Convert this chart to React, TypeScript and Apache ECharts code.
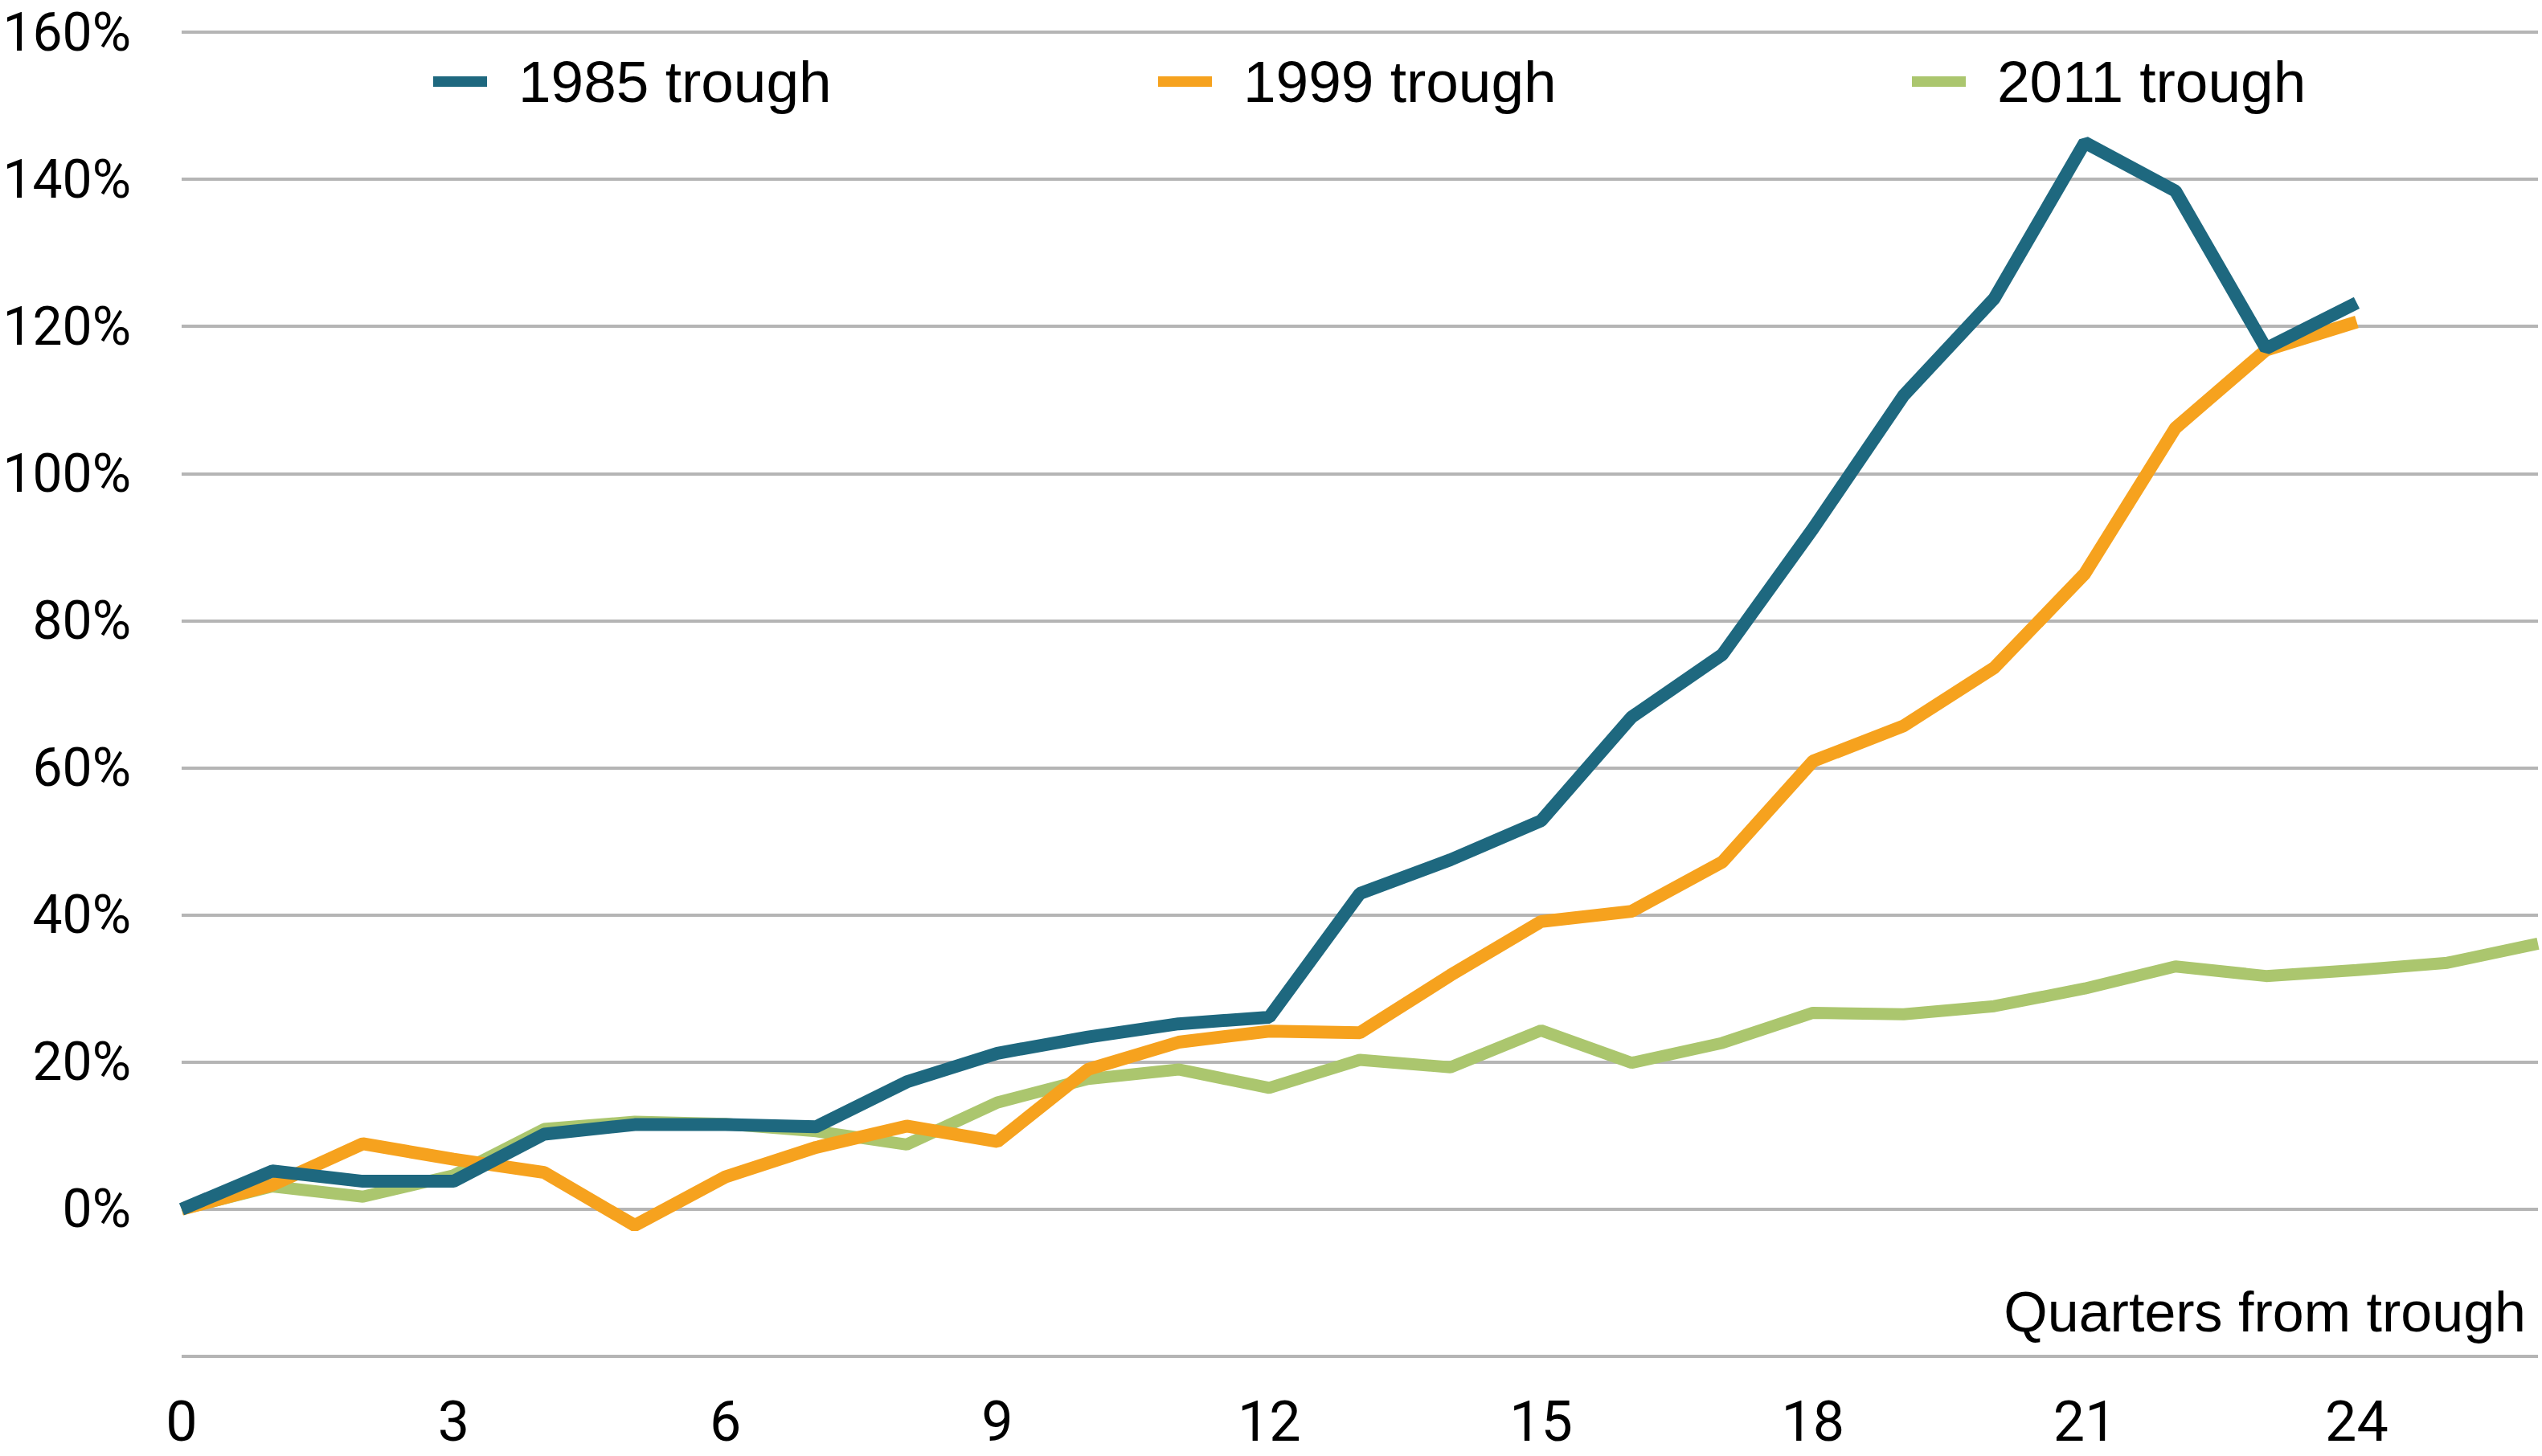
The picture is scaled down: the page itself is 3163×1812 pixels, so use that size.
import React, { useEffect, useRef } from "react";
import * as echarts from "echarts";

const quarters = [0, 1, 2, 3, 4, 5, 6, 7, 8, 9, 10, 11, 12, 13, 14, 15, 16, 17, 18, 19, 20, 21, 22, 23, 24, 25, 26];
const trough1985 = [0, 5.2, 3.8, 3.8, 10.2, 11.5, 11.5, 11.2, 17.3, 21.2, 23.4, 25.2, 26.1, 42.9, 47.5, 52.8, 66.9, 75.4, 92.5, 110.6, 123.8, 145.0, 138.4, 117.0, 123.2];
const trough1999 = [0, 3.3, 8.9, 6.8, 5.0, -2.2, 4.4, 8.4, 11.3, 9.2, 19.0, 22.7, 24.2, 24.0, 31.8, 39.1, 40.5, 47.2, 60.9, 65.7, 73.6, 86.4, 106.2, 116.8, 120.6];
const trough2011 = [0, 3.1, 1.7, 4.6, 10.9, 11.9, 11.6, 10.6, 8.8, 14.5, 17.7, 19.0, 16.5, 20.3, 19.3, 24.3, 19.9, 22.6, 26.7, 26.5, 27.6, 30.0, 33.0, 31.7, 32.5, 33.5, 36.1];
const seriesNames = ["1985 trough", "1999 trough", "2011 trough"];
const xAxisTitle = "Quarters from trough";

const COLORS = ["#1E687F", "#F6A21E", "#ABC66E"];
const TICK_FONT = 'Roboto, "Liberation Sans", sans-serif';
const TEXT_FONT = '"Liberation Sans", Arial, sans-serif';

const toPairs = (vals: number[]) => vals.map((v, i) => [quarters[i], v]);

export default function App() {
  const ref = useRef<HTMLDivElement>(null);
  useEffect(() => {
    if (!ref.current) return;
    const chart = echarts.init(ref.current, undefined, { renderer: "svg" });
    const legendBase = (name: string, left: number) => ({
      data: [name],
      left,
      top: 60,
      orient: "horizontal",
      icon: "rect",
      itemWidth: 67,
      itemHeight: 13,
      selectedMode: false,
      textStyle: {
        fontFamily: TEXT_FONT,
        fontSize: 73,
        color: "#000",
        padding: [0, 0, 0, 34],
      },
    });
    chart.setOption({
      animation: false,
      backgroundColor: "#fff",
      grid: { left: 226, right: 5, top: 40, bottom: 124, containLabel: false, outerBoundsMode: "none" },
      legend: [
        legendBase(seriesNames[0], 534),
        legendBase(seriesNames[1], 1436),
        legendBase(seriesNames[2], 2374),
      ],
      xAxis: {
        type: "value",
        min: 0,
        max: 26,
        interval: 3,
        axisLine: { show: false },
        axisTick: { show: false },
        splitLine: { show: false },
        axisLabel: {
          margin: 48,
          fontFamily: TICK_FONT,
          fontSize: 70,
          lineHeight: 66,
          color: "#000",
          formatter: (v: number) => (v % 3 === 0 ? String(v) : ""),
        },
      },
      yAxis: {
        type: "value",
        min: -20,
        max: 160,
        interval: 20,
        axisLine: { show: false },
        axisTick: { show: false },
        splitLine: { show: true, lineStyle: { color: "#B5B5B5", width: 4 } },
        axisLabel: {
          margin: 63,
          fontFamily: TICK_FONT,
          fontSize: 66,
          lineHeight: 60,
          color: "#000",
          formatter: (v: number) => (v < 0 ? "" : `${v}%`),
        },
      },
      graphic: [
        {
          type: "text",
          right: 20,
          top: 1598,
          style: {
            text: xAxisTitle,
            fontFamily: TEXT_FONT,
            fontSize: 70,
            fill: "#000",
          },
        },
      ],
      series: [
        {
          name: seriesNames[2],
          type: "line",
          data: toPairs(trough2011),
          symbol: "none",
          lineStyle: { color: COLORS[2], width: 15 },
          itemStyle: { color: COLORS[2] },
        },
        {
          name: seriesNames[1],
          type: "line",
          data: toPairs(trough1999),
          symbol: "none",
          lineStyle: { color: COLORS[1], width: 16 },
          itemStyle: { color: COLORS[1] },
        },
        {
          name: seriesNames[0],
          type: "line",
          data: toPairs(trough1985),
          symbol: "none",
          lineStyle: { color: COLORS[0], width: 16 },
          itemStyle: { color: COLORS[0] },
        },
      ],
    });
    return () => chart.dispose();
  }, []);
  return (
    <div
      ref={ref}
      style={{ position: "fixed", left: 0, top: 0, width: 3163, height: 1812, background: "#fff" }}
    />
  );
}
